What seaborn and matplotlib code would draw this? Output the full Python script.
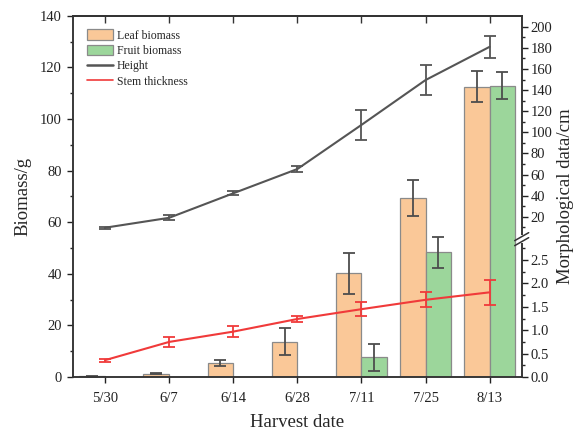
import numpy as np
import pandas as pd
import matplotlib
matplotlib.use("Agg")
import matplotlib.pyplot as plt
import seaborn as sns
from matplotlib.patches import Patch
from matplotlib.lines import Line2D
from matplotlib.ticker import FixedLocator, FixedFormatter, MultipleLocator

# ---------------- data ----------------
dates = ['5/30', '6/7', '6/14', '6/28', '7/11', '7/25', '8/13']
leaf_biomass = [0.2, 1.3, 5.4, 13.7, 40.2, 69.5, 112.5]
leaf_err = [0.1, 0.3, 1.1, 5.2, 7.9, 7.0, 6.0]
fruit_biomass = [0.0, 0.0, 0.0, 0.0, 7.6, 48.3, 112.9]
fruit_err = [np.nan, np.nan, np.nan, np.nan, 5.2, 6.1, 5.1]
height_cm = [9.6, 19.0, 42.2, 65.2, 107.0, 149.5, 181.0]
height_err = [0.8, 2.5, 1.8, 2.8, 13.9, 14.2, 10.2]
stem_mm = [0.36, 0.75, 0.97, 1.24, 1.45, 1.65, 1.81]
stem_err = [0.03, 0.10, 0.12, 0.07, 0.15, 0.16, 0.27]
right_major = [0.0, 0.5, 1.0, 1.5, 2.0, 2.5, 20, 40, 60, 80, 100, 120, 140, 160, 180, 200]
right_labels = ['0.0', '0.5', '1.0', '1.5', '2.0', '2.5', '20', '40', '60', '80',
                '100', '120', '140', '160', '180', '200']
right_minor = [0.25, 0.75, 1.25, 1.75, 2.25, 2.75, 10, 30, 50, 70, 90, 110, 130,
               150, 170, 190]

series_names = ['Leaf biomass', 'Fruit biomass']
colors = {'Leaf biomass': '#FAC898', 'Fruit biomass': '#9CD69B'}
height_color = '#555555'
stem_color = '#F03A3A'
err_color = '#4D4D4D'

df = pd.DataFrame({
    'date': dates * 2,
    'kind': [series_names[0]] * len(dates) + [series_names[1]] * len(dates),
    'value': leaf_biomass + fruit_biomass,
})

sns.set_theme(style='ticks')
plt.rcParams['font.family'] = ['Liberation Serif', 'DejaVu Serif']
plt.rcParams['mathtext.fontset'] = 'stix'

fig = plt.figure(figsize=(5.76, 4.34), dpi=100)
ax = fig.add_axes([0.1267, 0.1313, 0.7790, 0.8325])

sns.barplot(data=df, x='date', y='value', hue='kind', order=dates,
            hue_order=series_names, palette=colors, errorbar=None,
            width=0.8, edgecolor='#8A8A8A', linewidth=0.9, saturation=1,
            legend=False, ax=ax)

pos = np.arange(len(dates))
ax.errorbar(pos - 0.2, leaf_biomass, yerr=leaf_err, fmt='none', ecolor=err_color,
            elinewidth=1.3, capsize=4.3, capthick=1.3, zorder=5)
ax.errorbar(pos + 0.2, fruit_biomass, yerr=fruit_err, fmt='none', ecolor=err_color,
            elinewidth=1.3, capsize=4.3, capthick=1.3, zorder=5)

ax.set_xlim(-0.5, 6.5)
ax.set_ylim(0, 140)
ax.yaxis.set_major_locator(MultipleLocator(20))
ax.yaxis.set_minor_locator(MultipleLocator(10))
ax.tick_params(axis='both', which='major', direction='out', length=4.5, width=1,
               labelsize=10.5, colors='#222222')
ax.tick_params(axis='x', which='major', pad=6)
ax.tick_params(axis='y', which='minor', direction='out', length=2.5, width=1)
ax.set_xlabel('Harvest date', fontsize=13.5, labelpad=7)
ax.set_ylabel('Biomass/g', fontsize=13.5, labelpad=6)
for s in ax.spines.values():
    s.set_color('#333333')
    s.set_linewidth(1.1)

top = ax.secondary_xaxis('top')
top.set_xticks(pos)
top.tick_params(direction='in', length=5, width=1, labeltop=False, colors='#333333')
top.spines['top'].set_linewidth(1.1)

# ---------------- right axis with a broken scale ----------------
ax2 = ax.twinx()
brk_x = [-1000.0, 0.0, 2.9, 5.0, 5000.0]
brk_g = [-18130.0, 0.0, 18.13 * 2.9, 53.92 + 0.409 * 5.0, 53.92 + 0.409 * 5000.0]


def fwd(v):
    return np.interp(v, brk_x, brk_g)


def inv(g):
    return np.interp(g, brk_g, brk_x)


ax2.set_yscale('function', functions=(fwd, inv))

sns.lineplot(x=pos, y=height_cm, color=height_color, linewidth=1.5, ax=ax2)
ax2.errorbar(pos, height_cm, yerr=height_err, fmt='none', ecolor=height_color,
             elinewidth=1.3, capsize=4.3, capthick=1.3)
sns.lineplot(x=pos, y=stem_mm, color=stem_color, linewidth=1.5, ax=ax2)
ax2.errorbar(pos, stem_mm, yerr=stem_err, fmt='none', ecolor=stem_color,
             elinewidth=1.3, capsize=4, capthick=1.3)

ax2.set_ylim(0, float(inv(140.0)))
ax2.set_xlim(-0.5, 6.5)
ax2.yaxis.set_major_locator(FixedLocator(right_major))
ax2.yaxis.set_major_formatter(FixedFormatter(right_labels))
ax2.yaxis.set_minor_locator(FixedLocator(right_minor))
ax2.tick_params(axis='y', which='major', direction='out', length=4.5, width=1,
                labelsize=10.5, colors='#222222', pad=2)
ax2.tick_params(axis='y', which='minor', direction='out', length=2.5, width=1)
ax2.set_ylabel('Morphological data/cm', fontsize=13.5, labelpad=3)
for s in ax2.spines.values():
    s.set_color('#333333')
    s.set_linewidth(1.1)

# break marks on the right spine
yb = fwd(2.9) / 140.0 + 0.006
px_x = 1.0 / 448.7
px_y = 1.0 / 361.3
ax2.plot([1, 1], [yb - 4 * px_y, yb + 4 * px_y], transform=ax2.transAxes,
         color='white', lw=3, clip_on=False, zorder=10, solid_capstyle='butt')
for off in (-2.5, 2.5):
    ax2.plot([1 - 7 * px_x, 1 + 7 * px_x],
             [yb + (off - 4) * px_y, yb + (off + 4) * px_y],
             transform=ax2.transAxes, color='#333333', lw=1.1, clip_on=False,
             zorder=11)

# ---------------- legend ----------------
handles = [
    Patch(facecolor=colors['Leaf biomass'], edgecolor='#8A8A8A', linewidth=0.9),
    Patch(facecolor=colors['Fruit biomass'], edgecolor='#8A8A8A', linewidth=0.9),
    Line2D([], [], color=height_color, linewidth=1.8),
    Line2D([], [], color=stem_color, linewidth=1.2),
]
labels = ['Leaf biomass', 'Fruit biomass', 'Height', 'Stem thickness']
leg = ax2.legend(handles, labels, loc='upper left', bbox_to_anchor=(0.031, 0.962),
                 frameon=False, fontsize=8.5, borderpad=0, borderaxespad=0,
                 handlelength=2.2, handleheight=1.0, handletextpad=0.35,
                 labelspacing=0.25)

fig.savefig('out.png', dpi=100)
